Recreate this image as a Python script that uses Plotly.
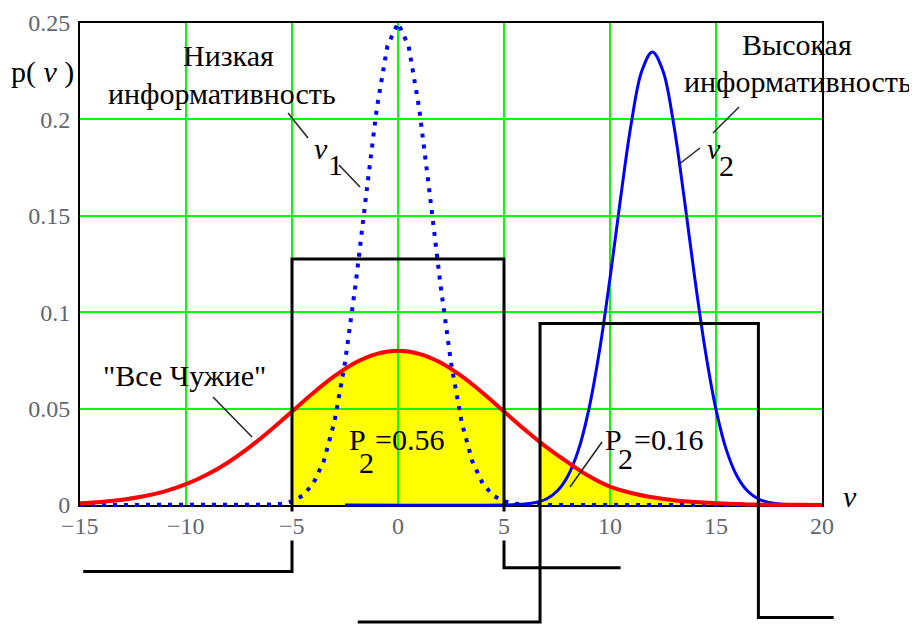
import numpy as np
import plotly.graph_objects as go

# page size and the 8px body margin the html page puts around the figure
W, H = 917, 624
OFF = 8
WF, HF = W - OFF, H - OFF
# plot frame on the page, px: left, right, top, bottom
FL, FR, FT, FB = 80, 822, 23, 505

FONT = "Liberation Serif"
TICK_COLOR = "#5f6670"

x_ticks = [-15, -10, -5, 0, 5, 10, 15, 20]
x_ticktext = ["\u221215", "\u221210", "\u22125", "0", "5", "10", "15", "20"]
y_ticks = [0, 0.05, 0.1, 0.15, 0.2, 0.25]
y_ticktext = ["0", "0.05", "0.1", "0.15", "0.2", "0.25"]

# "Все Чужие" (red)
red_x = [-15, -14, -13, -12, -11, -10, -9, -8, -7, -6, -5, -4, -3, -2, -1, 0,
         1, 2, 3, 4, 5, 6, 6.7, 7, 8, 9, 10, 11, 12, 13, 14, 15, 16, 17, 18, 19, 20]
red_y = [0.0009, 0.0016, 0.0027, 0.0045, 0.0071, 0.0108, 0.0158, 0.0222, 0.0300,
         0.0389, 0.0485, 0.0581, 0.0668, 0.0739, 0.0784, 0.0800, 0.0784, 0.0739,
         0.0668, 0.0581, 0.0485, 0.0389, 0.0326, 0.0300, 0.0222, 0.0150, 0.0095,
         0.0062, 0.0040, 0.0025, 0.0015, 0.0009, 0.0005, 0.0002, 0.0001, 0.0001, 0.0]

# nu_1, low informativeness (dotted blue)
nu1_x = [-15, -6.5, -6, -5.5, -5, -4.5, -4, -3.5, -3, -2.5, -2, -1.5, -1, -0.5, 0,
         0.5, 1, 1.5, 2, 2.5, 3, 3.5, 4, 4.5, 5, 5.5, 6, 6.5, 20]
nu1_y = [0, 0, 0.0002, 0.0007, 0.0019, 0.0048, 0.0110, 0.0228, 0.0431, 0.0738,
         0.1145, 0.1611, 0.2057, 0.2381, 0.2500, 0.2381, 0.2057, 0.1611, 0.1145,
         0.0738, 0.0431, 0.0228, 0.0110, 0.0048, 0.0019, 0.0007, 0.0002, 0, 0]

# nu_2, high informativeness (solid blue)
nu2_x = [-2.5, 5, 5.5, 6, 6.5, 7, 7.5, 8, 8.5, 9, 9.5, 10, 10.5, 11, 11.5, 12,
         12.5, 13, 13.5, 14, 14.5, 15, 15.5, 16, 16.5, 17, 17.5, 18, 18.5, 19, 20]
nu2_y = [0, 0, 0.0002, 0.0005, 0.0013, 0.0031, 0.0071, 0.0148, 0.0282, 0.0495,
         0.0797, 0.1176, 0.1592, 0.1977, 0.2251, 0.2350, 0.2251, 0.1977, 0.1592,
         0.1176, 0.0797, 0.0495, 0.0282, 0.0148, 0.0071, 0.0031, 0.0013, 0.0005,
         0.0002, 0, 0]

# black decision windows (they run below the axis)
win1_x = [-14.85, -5, -5, 5, 5, 10.5]
win1_y = [-0.0345, -0.0345, 0.1276, 0.1276, -0.0325, -0.0325]
win2_x = [-1.9, 6.7, 6.7, 17, 17, 20.55]
win2_y = [-0.0607, -0.0607, 0.0942, 0.0942, -0.0583, -0.0583]


def px(x):
    return (x - OFF) / WF


def py(y):
    return 1 - (y - OFF) / HF


# full-figure axes with the same scale as the framed axes
kx = 35 / (FR - FL)
ky = 0.25 / (FB - FT)
x_full = [-15 - (FL - OFF) * kx, 20 + (W - FR) * kx]
y_full = [-(H - FB) * ky, 0.25 + (FT - OFF) * ky]

rx = np.array(red_x)
ry = np.array(red_y)

traces = []
for w_x in (win1_x, win2_x):
    mask = (rx >= w_x[1]) & (rx <= w_x[3])
    traces.append(go.Scatter(
        x=rx[mask], y=ry[mask], mode="lines", line=dict(width=0, shape="spline"),
        fill="tozeroy", fillcolor="#ffff00", xaxis="x", yaxis="y",
    ))

traces += [
    go.Scatter(x=nu2_x, y=nu2_y, mode="lines",
               line=dict(color="#0000ff", width=3, shape="spline"), xaxis="x3", yaxis="y3"),
    go.Scatter(x=nu1_x, y=nu1_y, mode="lines",
               line=dict(color="#0000ff", width=4, dash="4px,7px"), xaxis="x3", yaxis="y3"),
    go.Scatter(x=red_x, y=red_y, mode="lines",
               line=dict(color="#ff0000", width=4, shape="spline"), xaxis="x3", yaxis="y3"),
    go.Scatter(x=win1_x, y=win1_y, mode="lines",
               line=dict(color="black", width=3), xaxis="x3", yaxis="y3"),
    go.Scatter(x=win2_x, y=win2_y, mode="lines",
               line=dict(color="black", width=3), xaxis="x3", yaxis="y3"),
]

fig = go.Figure(data=traces)


def label(text, x, y, size=30, color="black"):
    fig.add_annotation(text=text, x=px(x), y=py(y), xref="paper", yref="paper",
                       xanchor="center", yanchor="middle", showarrow=False,
                       font=dict(family=FONT, size=size, color=color))


label("Низкая", 228, 55)
label("информативность", 222, 93)
label("Высокая", 797, 45)
label("информативность", 798, 82)
label("\"Все Чужие\"", 184, 375)
label("<i>ν</i>", 321, 148)
label("1", 335, 164)
label("<i>ν</i>", 714, 148)
label("2", 726, 165)
label("P", 357, 439)
label("2", 366, 462)
label("=0.56", 409, 439)
label("P", 613, 439)
label("2", 625, 458)
label("=0.16", 668, 439)
label("p( <i>ν</i> )", 42, 72)
label("<i>ν</i>", 850, 497)

# x tick labels sit on white boxes that hide the window lines behind them
for v, t in zip(x_ticks, x_ticktext):
    fig.add_annotation(text=t, x=v, xref="x2", y=py(511), yref="paper",
                       xanchor="center", yanchor="top", showarrow=False, borderpad=1,
                       bgcolor="white" if v != x_ticks[0] else None,
                       font=dict(family=FONT, size=24, color=TICK_COLOR))

leaders = [
    ((288, 113), (308, 138)),
    ((339, 165), (360, 187)),
    ((713, 133), (739, 107)),
    ((700, 148), (678, 165)),
    ((213, 397), (252, 437)),
    ((602, 442), (570, 487)),
]
for (x0, y0), (x1, y1) in leaders:
    fig.add_shape(type="line", xref="paper", yref="paper",
                  x0=px(x0), y0=py(y0), x1=px(x1), y1=py(y1),
                  line=dict(color="#222222", width=1.5))

fig.update_layout(
    width=WF,
    height=HF,
    template="none",
    margin=dict(l=0, r=0, t=0, b=0),
    paper_bgcolor="white",
    plot_bgcolor="rgba(0,0,0,0)",
    showlegend=False,
    xaxis=dict(domain=[0, 1], range=x_full, visible=False, anchor="y"),
    yaxis=dict(domain=[0, 1], range=y_full, visible=False, anchor="x"),
    xaxis2=dict(
        domain=[(FL - OFF) / WF, (FR - OFF) / WF], range=[-15, 20], anchor="y2",
        tickvals=x_ticks, showticklabels=False, ticks="",
        showgrid=True, gridcolor="#00ff00", gridwidth=2, zeroline=False,
        showline=True, linecolor="black", linewidth=2, mirror=True,
    ),
    yaxis2=dict(
        domain=[(H - FB) / HF, (H - FT) / HF], range=[0, 0.25], anchor="x2",
        tickvals=y_ticks, ticktext=y_ticktext, ticks="", ticklabelstandoff=3,
        tickfont=dict(family=FONT, size=24, color=TICK_COLOR),
        showgrid=True, gridcolor="#00ff00", gridwidth=2, zeroline=False,
        showline=True, linecolor="black", linewidth=2, mirror=True,
    ),
    xaxis3=dict(domain=[0, 1], range=x_full, visible=False, anchor="y3"),
    yaxis3=dict(domain=[0, 1], range=y_full, visible=False, anchor="x3"),
)

fig.write_html("out.html")
